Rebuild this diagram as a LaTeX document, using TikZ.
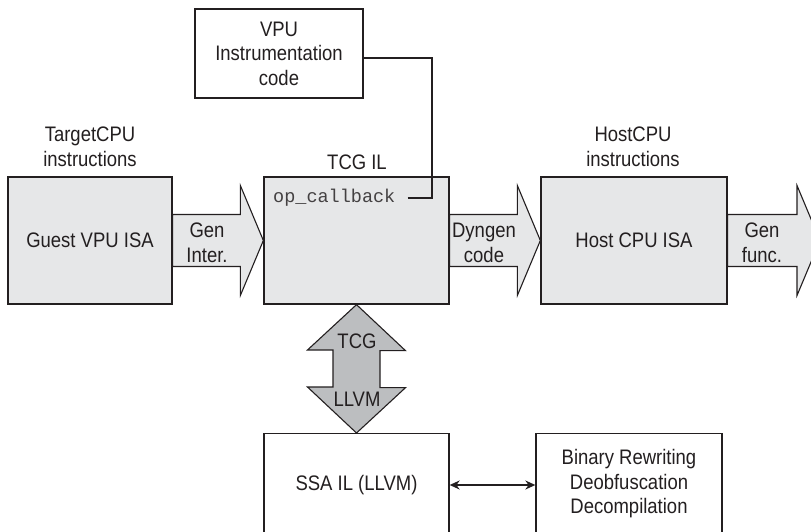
\documentclass[tikz,border=0pt]{standalone}
\usepackage{fontspec}
\setmainfont{Liberation Sans}[FakeStretch=0.88]
\setmonofont{Liberation Mono}
\usetikzlibrary{calc,arrows.meta}
\definecolor{ink}{HTML}{231F20}
\definecolor{boxfill}{HTML}{E6E7E8}
\definecolor{arrfill}{HTML}{BCBEC0}
\begin{document}
\begin{tikzpicture}[x=1pt,y=-1pt,
  every node/.style={text=ink,font=\fontsize{21}{24.5}\selectfont,align=center},
  graybox/.style={draw=ink,line width=1.3,fill=boxfill,inner sep=0},
  whitebox/.style={draw=ink,line width=1.3,fill=white,inner sep=0},
  blk/.style={draw=ink,line width=1.1,fill=boxfill,line join=miter},
  varr/.style={draw=ink,line width=1.1,fill=arrfill,line join=miter},
  conn/.style={draw=ink,line width=2}]
\clip (0,0) rectangle (811,532);
\fill[white] (0,0) rectangle (811,532);
% boxes
\node[graybox,minimum width=164,minimum height=127] (g) at (90,240.5) {Guest VPU ISA};
\node[graybox,minimum width=185,minimum height=127] (t) at (356.5,240.5) {};
\node[graybox,minimum width=186,minimum height=127] (h) at (634,240.5) {Host CPU ISA};
\node[whitebox,minimum width=168,minimum height=89] (v) at (279,53.5) {VPU\\Instrumentation\\code};
\node[whitebox,minimum width=185,minimum height=130,anchor=north] (s) at (356.5,433) {};
\node[whitebox,minimum width=186,minimum height=130,anchor=north] (b) at (629,433) {};
\node (st) at (356.5,485) {SSA IL (LLVM)};
\node (bt) at (629,484) {Binary Rewriting\\Deobfuscation\\Decompilation};
% labels
\node (tl) at (90,147) {TargetCPU\\instructions};
\node (hl) at (633,147) {HostCPU\\instructions};
\node (tcgl) at (357,162) {TCG IL};
\node[font=\fontsize{18.5}{20}\ttfamily,text=ink!85,anchor=west,inner xsep=12,inner ysep=0] (op) at (261,198) {op\_callback};
% block arrows
\draw[blk] ($(g.east)+(0,-26)$) -- ($(t.west)+(-23,-26)$) -- ($(t.west)+(-23,-55)$) -- (t.west)
  -- ($(t.west)+(-23,55)$) -- ($(t.west)+(-23,26)$) -- ($(g.east)+(0,26)$) -- cycle;
\node (gi) at (207,243) {Gen\\Inter.};
\draw[blk] ($(t.east)+(0,-26)$) -- ($(h.west)+(-23,-26)$) -- ($(h.west)+(-23,-55)$) -- (h.west)
  -- ($(h.west)+(-23,55)$) -- ($(h.west)+(-23,26)$) -- ($(t.east)+(0,26)$) -- cycle;
\node (dy) at (484,243) {Dyngen\\code};
\coordinate (gf) at (820,240.5);
\draw[blk] ($(h.east)+(0,-26)$) -- ($(gf)+(-23,-26)$) -- ($(gf)+(-23,-55)$) -- (gf)
  -- ($(gf)+(-23,55)$) -- ($(gf)+(-23,26)$) -- ($(h.east)+(0,26)$) -- cycle;
\node (gfn) at (762,243) {Gen\\func.};
% vertical double arrow
\draw[varr] (t.south) -- ++(49,46) -- ++(-25.5,0) -- ++(0,37) -- ++(25.5,0) -- (s.north)
  -- ++(-49,-46) -- ++(25.5,0) -- ++(0,-37) -- ++(-25.5,0) -- cycle;
\node (tcg) at (357,341) {TCG};
\node (llvm) at (357,399) {LLVM};
% connectors
\draw[conn] (op.east) -- ++(24,0) |- ($(v.east)+(0,4.5)$);
\draw[ink,line width=1.6,{Stealth[length=10,width=9]}-{Stealth[length=10,width=9]}]
  ($(s.north east)+(0,52)$) -- ($(b.north west)+(0,52)$);
\end{tikzpicture}
\end{document}
